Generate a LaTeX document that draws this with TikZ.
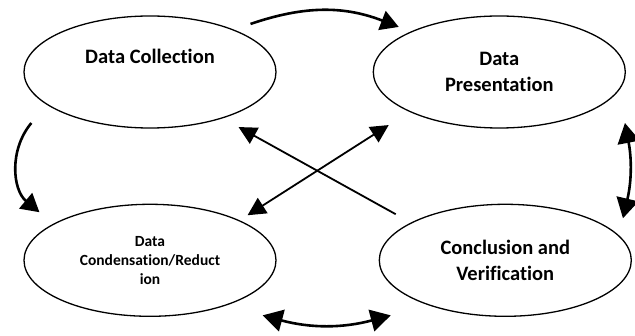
\documentclass[tikz,border=0pt]{standalone}
\usepackage{fontspec}
\setmainfont{Carlito}[Ligatures=NoCommon]
\usepackage{tikz}
\usetikzlibrary{shapes.geometric, arrows.meta, positioning}

\begin{document}
\begin{tikzpicture}[
    x=1pt, y=-1pt,
    node distance=75pt and 96pt,
    font=\bfseries,
    phase/.style={ellipse, draw=black, line width=1.3pt, fill=white, align=center, minimum width=252pt, minimum height=112pt, inner sep=0pt},
    bigtext/.style={font=\fontsize{20.5}{26}\selectfont\bfseries},
    smalltext/.style={font=\fontsize{15.5}{19}\selectfont\bfseries},
    arrow/.style={line width=2.6pt, -{Triangle[length=18pt, width=20pt]}},
    darrow/.style={line width=2.6pt, {Triangle[length=20pt, width=22pt]}-{Triangle[length=20pt, width=22pt]}},
    cross/.style={line width=1.8pt, -{Triangle[length=18pt, width=18pt]}},
    dcross/.style={line width=1.8pt, {Triangle[length=18pt, width=18pt]}-{Triangle[length=18pt, width=18pt]}}
]
\useasboundingbox (0,0) rectangle (635,336);

% Nodes
\node (collect) [phase, bigtext] at (150,72) {Data Collection\\[6pt]\phantom{Data}};
\node (present) [phase, bigtext, right=of collect] {Data\\Presentation};
\node (condense) [phase, smalltext, below=of collect] {Data\\Condensation/Reduct\\ion};
\node (conclude) [phase, bigtext, right=102pt of condense] {Conclusion and\\Verification};

% Connections
\draw [arrow] ([shift={(11,-8)}]collect.north east) to[bend left=20] ([shift={(-11,-5)}]present.north west);
\draw [arrow] ([shift={(8,51)}]collect.west) to[bend right=45] ([shift={(-21,-8)}]condense.north west);
\draw [darrow] ([shift={(-1,51)}]present.east) to[bend left=12] ([shift={(-9,-42)}]conclude.east);
\draw [darrow] ([shift={(23,15)}]condense.south east) to[bend right=15] ([shift={(-25,15)}]conclude.south west);
\draw [cross] ([shift={(-20,-6)}]conclude.north west) -- ([shift={(-1,15)}]collect.south east);
\draw [dcross] ([shift={(8,-5)}]condense.north east) -- ([shift={(-21,13)}]present.south west);

\end{tikzpicture}
\end{document}
